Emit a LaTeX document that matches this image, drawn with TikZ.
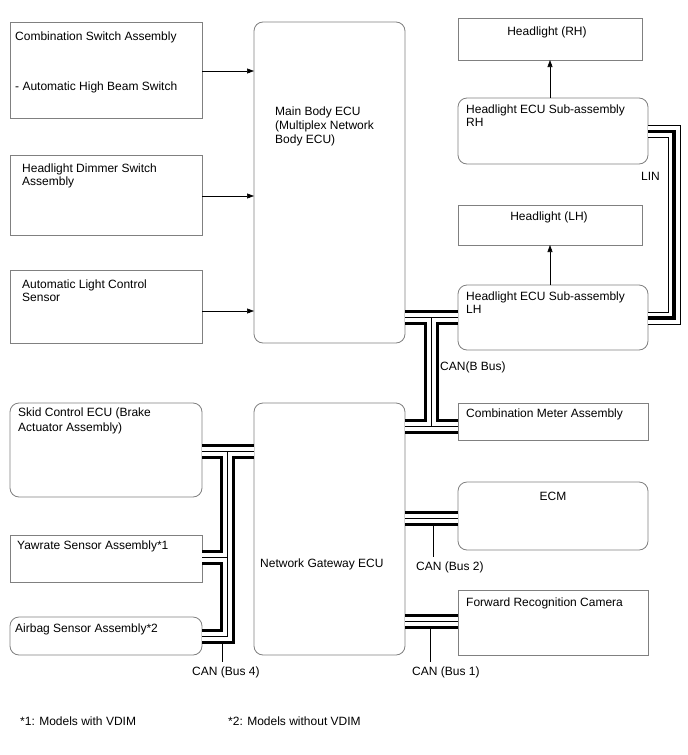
\documentclass[tikz,border=0pt]{standalone}
\usepackage{fontspec}
\setmainfont{Liberation Sans}
\usetikzlibrary{arrows.meta}
\definecolor{boxgray}{RGB}{128,128,128}
\begin{document}
\begin{tikzpicture}[x=1pt,y=-1pt,
  box/.style={draw=boxgray, line width=0.8pt, inner sep=0pt, outer sep=0pt, anchor=north west},
  rbox/.style={box, rounded corners=9pt},
  txt/.style={inner sep=0pt, anchor=base west, font=\fontsize{12}{14}\selectfont},
  ctxt/.style={txt, anchor=base},
  arr/.style={draw=black, line width=0.6pt, -{Triangle[length=7pt,width=5pt]}},
  stub/.style={draw=black, line width=0.8pt},
  canbus/.style={draw=black, line width=15pt, line join=miter, line cap=butt,
    postaction={draw=white, line width=9pt, line join=miter, line cap=butt},
    postaction={draw=black, line width=0.9pt, line join=miter, line cap=butt}},
  linbus/.style={draw=black, line width=13pt, line join=miter, line cap=butt,
    postaction={draw=white, line width=11pt, line join=miter, line cap=butt},
    postaction={draw=black, line width=3.5pt, line join=miter, line cap=butt}}
]
\useasboundingbox[fill=white] (0,0) rectangle (688,755);

% boxes
\node[box, minimum width=192pt, minimum height=96pt] (csw) at (10,22) {};
\node[rbox, minimum width=151pt, minimum height=321pt] (mb) at (254,22) {};
\node[box, minimum width=192pt, minimum height=80pt] (hdim) at (10,155) {};
\node[box, minimum width=192pt, minimum height=73pt] (alc) at (10,270) {};
\node[box, minimum width=184pt, minimum height=42pt] (hr) at (458,18) {};
\node[rbox, minimum width=190pt, minimum height=66pt] (hrh) at (458,98) {};
\node[box, minimum width=184pt, minimum height=40pt] (hl) at (458,205) {};
\node[rbox, minimum width=190pt, minimum height=65pt] (hlh) at (458,285) {};
\node[box, minimum width=190pt, minimum height=37pt] (cma) at (458,403) {};
\node[rbox, minimum width=190pt, minimum height=68pt] (ecm) at (458,482) {};
\node[box, minimum width=190pt, minimum height=65pt] (frc) at (458,590) {};
\node[rbox, minimum width=151pt, minimum height=252pt] (ngw) at (254,403) {};
\node[rbox, minimum width=192pt, minimum height=94pt] (scu) at (10,403) {};
\node[box, minimum width=192pt, minimum height=47pt] (yaw) at (10,535) {};
\node[rbox, minimum width=192pt, minimum height=38pt] (air) at (10,617) {};

% texts
\node[txt] (tcsw1) at (15,40) {Combination Switch Assembly};
\node[txt] (tcsw2) at (15,90) {- Automatic High Beam Switch};
\node[txt] (tmb1) at (275,115) {Main Body ECU};
\node[txt] (tmb2) at (275,129) {(Multiplex Network};
\node[txt] (tmb3) at (275,143) {Body ECU)};
\node[txt] (thdim1) at (22,172) {Headlight Dimmer Switch};
\node[txt] (thdim2) at (22,185) {Assembly};
\node[txt] (talc1) at (22,288) {Automatic Light Control};
\node[txt] (talc2) at (22,301) {Sensor};
\node[ctxt] (thr) at (547,35) {Headlight (RH)};
\node[txt] (thrh1) at (466,113) {Headlight ECU Sub-assembly};
\node[txt] (thrh2) at (466,126) {RH};
\node[ctxt] (thl) at (549,220) {Headlight (LH)};
\node[txt] (thlh1) at (466,300) {Headlight ECU Sub-assembly};
\node[txt] (thlh2) at (466,313) {LH};
\node[txt] (tlin) at (641,180) {LIN};
\node[txt] (tcanb) at (440,370) {CAN(B Bus)};
\node[txt] (tcma) at (466,417) {Combination Meter Assembly};
\node[txt] (tscu1) at (18,416) {Skid Control ECU (Brake};
\node[txt] (tscu2) at (18,431) {Actuator Assembly)};
\node[ctxt] (tecm) at (553,500) {ECM};
\node[txt] (tngw) at (260,567) {Network Gateway ECU};
\node[txt] (tbus2) at (416,570) {CAN (Bus 2)};
\node[txt] (tyaw) at (17,549) {Yawrate Sensor Assembly*1};
\node[txt] (tfrc) at (466,606) {Forward Recognition Camera};
\node[txt] (tair) at (15,632) {Airbag Sensor Assembly*2};
\node[txt] (tbus4) at (192,675) {CAN (Bus 4)};
\node[txt] (tbus1) at (412,675) {CAN (Bus 1)};
\node[txt] (fn1) at (20,725) {*1: Models with VDIM};
\node[txt] (fn2) at (228,725) {*2: Models without VDIM};

% arrows
\draw[arr] (csw.east |- 0,71) -- (mb.west |- 0,71);
\draw[arr] (hdim.east |- 0,196) -- (mb.west |- 0,196);
\draw[arr] (alc.east |- 0,311) -- (mb.west |- 0,311);
\draw[arr] (hrh.north -| 550,0) -- (hr.south -| 550,0);
\draw[arr] (hlh.north -| 550,0) -- (hl.south -| 550,0);

% LIN
\draw[linbus] (hrh.east |- 0,131.5) -- (674,131.5) -- (674,318) -- (hlh.east |- 0,318);

% CAN (B Bus)
\draw[canbus] (mb.east |- 0,317) -- (hlh.west |- 0,317)
  (431,317) -- (431,426)
  (ngw.east |- 0,426) -- (cma.west |- 0,426);

% CAN (Bus 2)
\draw[canbus] (ngw.east |- 0,518) -- (ecm.west |- 0,518);
\coordinate (s2a) at (433,525);
\coordinate (s2b) at (433,557);
\draw[stub] (s2a) -- (s2b);

% CAN (Bus 1)
\draw[canbus] (ngw.east |- 0,621) -- (frc.west |- 0,621);
\coordinate (s1a) at (430,628);
\coordinate (s1b) at (430,662);
\draw[stub] (s1a) -- (s1b);

% CAN (Bus 4)
\draw[canbus] (ngw.west |- 0,451) -- (scu.east |- 0,451)
  (227,451) -- (227,557.5) -- (yaw.east |- 0,557.5)
  (227,451) -- (227,636.5) -- (air.east |- 0,636.5);
\coordinate (s4a) at (222,644);
\coordinate (s4b) at (222,662);
\draw[stub] (s4a) -- (s4b);
\end{tikzpicture}
\end{document}
